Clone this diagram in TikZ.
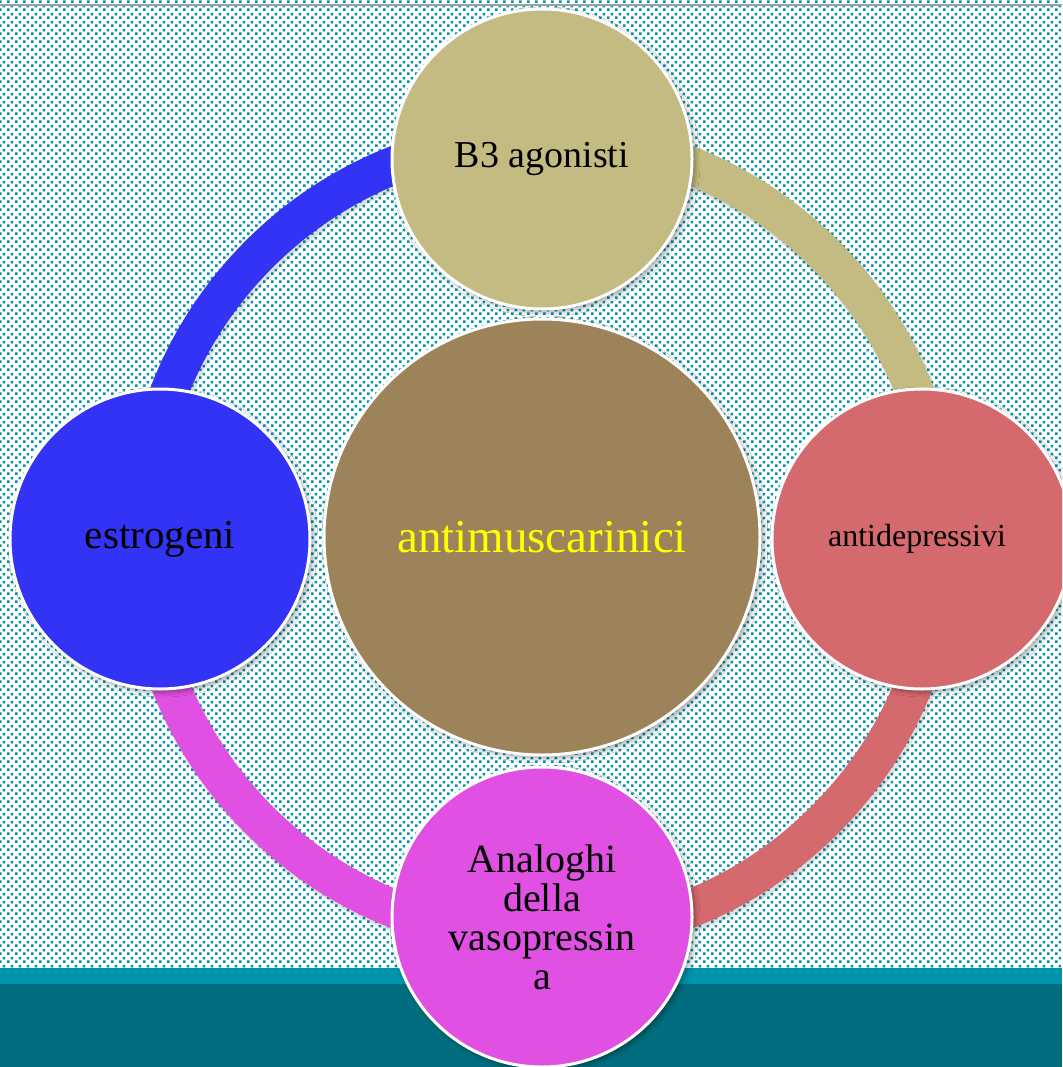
\documentclass[tikz,border=0pt]{standalone}
\usepackage{fontspec}
\setmainfont{Liberation Serif}
\usetikzlibrary{patterns.meta,shadows.blur}

\definecolor{dotteal}{RGB}{0,150,170}
\definecolor{topline}{RGB}{155,160,162}
\definecolor{bandlight}{RGB}{0,148,172}
\definecolor{banddark}{RGB}{0,110,126}
\definecolor{cblue}{RGB}{51,51,246}
\definecolor{ckhaki}{RGB}{195,187,130}
\definecolor{cred}{RGB}{212,105,110}
\definecolor{cmagenta}{RGB}{224,80,226}
\definecolor{cbrown}{RGB}{157,131,89}
\definecolor{cyellow}{RGB}{255,255,0}

% staggered square dots of the backdrop
\tikzdeclarepattern{
  name=bgdots,
  type=uncolored,
  bounding box={(0pt,0pt) and (8pt,8pt)},
  tile size={(8pt,8pt)},
  code={
    \fill (0pt,0pt) rectangle (3pt,3pt);
    \fill (4pt,4pt) rectangle (7pt,7pt);
  }
}

\tikzset{
  bubble/.style={circle, inner sep=0pt, minimum size=300pt, draw=white,
    line width=3pt, text=black,
    blur shadow={shadow xshift=3pt, shadow yshift=-3pt,
      shadow blur radius=5pt, shadow blur steps=8, shadow opacity=40}},
  ringband/.style={line width=38pt},
  ringshade/.style={line width=40pt, draw=black, opacity=0.12},
}

\begin{document}
\begin{tikzpicture}[x=1pt,y=1pt]
\useasboundingbox (0,0) rectangle (1062,-1067);
\begin{scope}
\clip (0,0) rectangle (1062,-1067);

% backdrop
\fill[white] (0,0) rectangle (1062,-968);
\fill[pattern=bgdots, pattern color=dotteal] (0,0) rectangle (1062,-968);
\draw[line width=2pt, topline] (0,-5) -- (1062,-5);
\fill[bandlight] (0,-968) rectangle (1062,-984);
\fill[banddark] (0,-984) rectangle (1062,-1067);

% ring around the central circle
\coordinate (C) at (542,-537);
\foreach \a/\b in {90/180, 0/90, -90/0, 180/270}
  \draw[ringshade] ([shift={(\a:400pt)}]C) ++(2,-3) arc[start angle=\a, end angle=\b, radius=400pt];
\draw[ringband, draw=cblue]    ([shift={(90:400pt)}]C)  arc[start angle=90,  end angle=180, radius=400pt];
\draw[ringband, draw=ckhaki]   ([shift={(0:400pt)}]C)   arc[start angle=0,   end angle=90,  radius=400pt];
\draw[ringband, draw=cred]     ([shift={(-90:400pt)}]C) arc[start angle=-90, end angle=0,   radius=400pt];
\draw[ringband, draw=cmagenta] ([shift={(180:400pt)}]C) arc[start angle=180, end angle=270, radius=400pt];

% circles
\node[bubble, fill=cbrown, minimum size=436pt, text=cyellow,
      font=\fontsize{47}{54}\selectfont] (center) at (C) {antimuscarinici};
\node[bubble, fill=ckhaki, font=\fontsize{38}{44}\selectfont]
  (b3) at (542,-159) {B3 agonisti};
\node[bubble, fill=cblue, font=\fontsize{41}{47}\selectfont]
  (estro) at (160,-539) {estrogeni};
\node[bubble, fill=cred, font=\fontsize{32}{38}\selectfont]
  (antidep) at (922,-539) {\hspace*{-10pt}antidepressivi};
\node[bubble, fill=cmagenta, align=center, font=\fontsize{40}{39}\selectfont]
  (vaso) at (542,-917) {Analoghi\\della\\vasopressin\\a};
\end{scope}
\end{tikzpicture}
\end{document}
